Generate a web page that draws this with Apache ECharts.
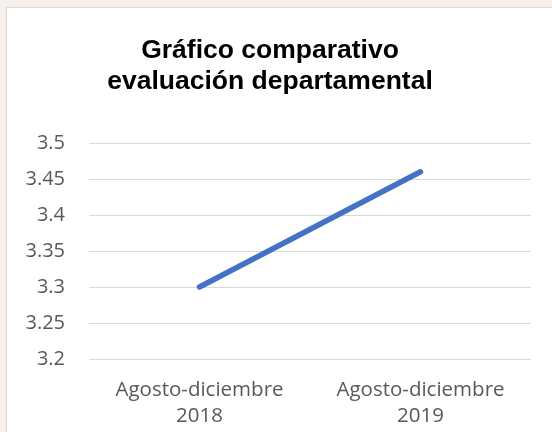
<!DOCTYPE html>
<html>
<head>
<meta charset="utf-8">
<script src="https://cdn.jsdelivr.net/npm/echarts@6/dist/echarts.min.js"></script>
<style>
  html, body { margin: 0; padding: 0; }
  body { width: 552px; height: 432px; background: #f6f0ec; position: relative; overflow: hidden; }
  .box { position: absolute; left: 6px; top: 7px; width: 560px; height: 440px; background: #fff; border: 1px solid #d9d9d9; }
  #chart { position: absolute; left: 0; top: 0; width: 552px; height: 432px; }
</style>
</head>
<body>
<div class="box"></div>
<div id="chart"></div>
<script>
// datos del gráfico
const periodos = ["Agosto-diciembre\n2018", "Agosto-diciembre\n2019"];
const evaluacion = [3.30, 3.46];
const ejeMin = 3.2;
const ejeMax = 3.5;
const ejePaso = 0.05;

const myChart = echarts.init(document.getElementById("chart"));
myChart.setOption({
  animation: false,
  title: {
    text: "Gráfico comparativo\nevaluación departamental",
    left: 265,
    top: 30,
    textAlign: "center",
    textStyle: {
      fontFamily: "Liberation Sans",
      fontWeight: "bold",
      fontSize: 26.5,
      lineHeight: 31,
      color: "#000"
    }
  },
  grid: { left: 89, right: 21, top: 143, bottom: 73 },
  xAxis: {
    type: "category",
    data: periodos,
    boundaryGap: true,
    axisLine: { show: false },
    axisTick: { show: false },
    axisLabel: {
      margin: 18,
      color: "#595959",
      fontFamily: "Open Sans",
      fontSize: 20.5,
      lineHeight: 26
    }
  },
  yAxis: {
    type: "value",
    min: ejeMin,
    max: ejeMax,
    interval: ejePaso,
    axisLine: { show: false },
    axisTick: { show: false },
    splitLine: { lineStyle: { color: "#d9d9d9", width: 1 } },
    axisLabel: {
      margin: 24,
      color: "#595959",
      fontFamily: "Open Sans",
      fontSize: 20,
      formatter: v => String(parseFloat(v.toFixed(2)))
    }
  },
  series: [
    {
      type: "line",
      data: evaluacion,
      showSymbol: false,
      lineStyle: { color: "#4472c4", width: 5.5, cap: "round" }
    }
  ]
});
</script>
</body>
</html>
